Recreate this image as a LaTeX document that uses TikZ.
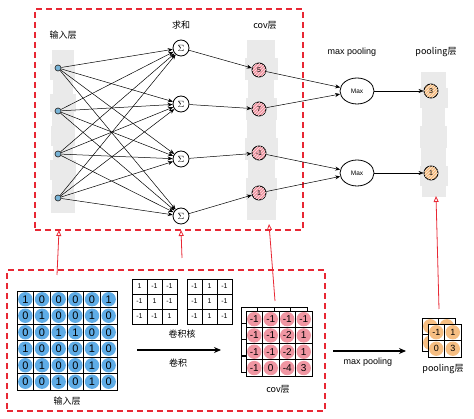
\documentclass[tikz,border=0pt]{standalone}
\usepackage{fontspec}
\setmainfont{Liberation Sans}
\newfontfamily\cjk{Noto Sans CJK SC}
\usetikzlibrary{arrows.meta,patterns,shapes.geometric}
\definecolor{dred}{RGB}{232,40,52}
\definecolor{bluec}{RGB}{95,172,230}
\definecolor{pinkc}{RGB}{240,150,162}
\definecolor{orangec}{RGB}{246,190,130}
\definecolor{stripc}{RGB}{234,234,234}
\definecolor{inpc}{RGB}{120,180,215}
\begin{document}
\begin{tikzpicture}[x=1pt,y=-1pt,
  lbl/.style={font=\fontsize{9}{10}\selectfont, inner sep=0},
  inp/.style={circle, draw=black!80, fill=inpc, inner sep=0, minimum size=6pt, line width=0.7pt},
  sumn/.style={circle, draw, line width=0.8pt, fill=white, minimum size=16pt, inner sep=0, font=\small},
  covn/.style={circle, draw, line width=0.9pt, fill=pinkc, minimum size=14pt, inner sep=0, font=\fontsize{7}{7}\selectfont,
     postaction={pattern=north east lines, pattern color=white!70!pinkc}},
  pooln/.style={circle, draw, line width=0.9pt, fill=orangec, minimum size=14pt, inner sep=0, font=\fontsize{7}{7}\selectfont,
     postaction={pattern=north east lines, pattern color=white!70!orangec}},
  maxn/.style={ellipse, draw, line width=0.8pt, fill=white, minimum width=34pt, minimum height=26pt, inner sep=0, font=\fontsize{6.5}{7}\selectfont},
  conn/.style={-{Stealth[length=5pt,width=4pt]}, line width=0.5pt},
  redarr/.style={dred, line width=0.8pt, -{Triangle[open,length=6pt,width=5pt]}},
  dbox/.style={draw=dred, line width=1.6pt, dash pattern=on 6pt off 4pt},
  incell/.style={draw, line width=0.6pt, minimum size=16.6pt, inner sep=0, font=\fontsize{11}{11}\selectfont,
     path picture={\fill[bluec] (path picture bounding box.center) circle (7.2pt);}},
  kcell/.style={draw, line width=0.6pt, fill=white, minimum size=15pt, inner sep=0, font=\fontsize{7}{7}\selectfont},
  ccell/.style={draw, line width=0.6pt, fill=white, minimum size=16.5pt, inner sep=0, font=\fontsize{10}{10}\selectfont,
     path picture={\fill[pinkc] (path picture bounding box.center) circle (7.2pt);}},
  pcell/.style={draw, line width=0.6pt, fill=white, minimum size=16.5pt, inner sep=0, font=\fontsize{9}{9}\selectfont,
     path picture={\fill[orangec] (path picture bounding box.center) circle (7.2pt);}},
  big/.style={-{Stealth[length=7pt,width=6pt]}, line width=1.1pt}
]
\useasboundingbox (0,0) rectangle (474,419);

% gray strips
\foreach \a/\b/\c/\d in {52/50/74/66, 50/64/75/80, 53/78/73/96, 50/94/76/112, 52/110/74/128, 51/126/75/146, 53/144/73/162, 50/160/76/180, 52/178/74/196, 51/194/75/213}
  \fill[stripc] (\a,\b) rectangle (\c,\d);
\foreach \a/\b/\c/\d in {247/40/275/60, 245/58/278/80, 248/78/274/100, 246/98/277/120, 247/118/276/140, 245/138/278/160, 248/158/275/180, 246/178/277/200, 247/198/276/220}
  \fill[stripc] (\a,\b) rectangle (\c,\d);
\foreach \a/\b/\c/\d in {421/72/446/90, 420/88/448/108, 422/106/445/128, 420/126/447/148, 421/146/446/168, 420/166/448/186, 422/184/446/197}
  \fill[stripc] (\a,\b) rectangle (\c,\d);

% dashed boxes
\node[dbox, minimum width=268pt, minimum height=221pt, inner sep=0, anchor=north west] (topbox) at (34,8) {};
\node[dbox, minimum width=318pt, minimum height=141pt, inner sep=0, anchor=north west] (botbox) at (6,269) {};

% top labels
\node[lbl] (tl1) at (63,35) {\cjk 输入层};
\node[lbl] (tl2) at (181,25) {\cjk 求和};
\node[lbl] (tl3) at (265,25) {\cjk cov层};
\node[lbl] (tl4) at (352,52) {max pooling};
\node[lbl] (tl5) at (436,52) {\cjk pooling层};

% network nodes
\foreach \y [count=\i] in {68,111,154,198} \node[inp] (i\i) at (58,\y) {};
\foreach \y [count=\i] in {48,104,159,216} \node[sumn] (s\i) at (181,\y) {$\Sigma$};
\foreach \y/\v [count=\i] in {70/5,109/7,153/-1,193/1} \node[covn] (c\i) at (259,\y) {\v};
\node[maxn] (m1) at (357,91) {Max};
\node[maxn] (m2) at (357,173) {Max};
\node[pooln] (p1) at (431,91) {3};
\node[pooln] (p2) at (431,173) {1};

\foreach \i in {1,...,4} \foreach \j in {1,...,4} \draw[conn] (i\i) -- (s\j);
\foreach \i in {1,...,4} \draw[conn] (s\i) -- (c\i);
\draw[conn] (c1) -- (m1);
\draw[conn] (c2) -- (m1);
\draw[conn] (c3) -- (m2);
\draw[conn] (c4) -- (m2);
\draw[conn] (m1) -- (p1);
\draw[conn] (m2) -- (p2);

% input grid
\foreach \row [count=\i] in {{1,0,0,0,0,1},{0,1,0,0,1,0},{0,0,1,1,0,0},{1,0,0,0,1,0},{0,1,0,0,1,0},{0,0,1,0,1,0}}
  \foreach \v [count=\j] in \row
    \node[incell] (g\i\j) at ({17+16.67*(\j-0.5)},{291+16.5*(\i-0.5)}) {\v};
\node[lbl] (bl1) at (67,401) {\cjk 输入层};

% kernels
\foreach \row [count=\i] in {{1,-1,-1},{-1,1,-1},{-1,-1,1}}
  \foreach \v [count=\j] in \row
    \node[kcell] (ka\i\j) at ({132+15*(\j-0.5)},{279+15*(\i-0.5)}) {\v};
\foreach \row [count=\i] in {{-1,1,-1},{-1,1,-1},{-1,1,-1}}
  \foreach \v [count=\j] in \row
    \node[kcell] (kb\i\j) at ({187+15*(\j-0.5)},{279+15*(\i-0.5)}) {\v};
\node[lbl] (bl2) at (182,334) {\cjk 卷积核};

\coordinate (a1s) at (137,350);
\coordinate (a1e) at (221,350);
\draw[big] (a1s) -- (a1e);
\node[lbl] (bl3) at (178,363) {\cjk 卷积};

% cov grid (back layer)
\foreach \i in {1,...,4} \foreach \j in {1,...,4}
  \node[draw, line width=0.6pt, minimum size=16.5pt, inner sep=0] (cb\i\j) at ({241+16.5*(\j-0.5)},{307+16.3*(\i-0.5)}) {};
\foreach \row [count=\i] in {{-1,-1,-1,-1},{-1,-1,-2,1},{-1,-1,-2,1},{-1,0,-4,3}}
  \foreach \v [count=\j] in \row
    \node[ccell] (cf\i\j) at ({246+16.5*(\j-0.5)},{311+16.3*(\i-0.5)}) {\v};
\node[lbl] (bl4) at (278,389) {\cjk cov层};

\coordinate (a2s) at (333,351);
\coordinate (a2e) at (406,351);
\draw[big] (a2s) -- (a2e);
\node[lbl] (bl5) at (368,362) {max pooling};

% pooling grid
\foreach \i in {1,2} \foreach \j in {1,2}
  \node[pcell] (pb\i\j) at ({422+16.5*(\j-0.5)},{318+16.5*(\i-0.5)}) {};
\foreach \row [count=\i] in {{-1,1},{0,3}}
  \foreach \v [count=\j] in \row
    \node[pcell] (pf\i\j) at ({428+16.5*(\j-0.5)},{324+16.5*(\i-0.5)}) {\v};
\node[lbl] (bl6) at (443,369) {\cjk pooling层};

% red arrows
\coordinate (r1s) at (57,275);
\coordinate (r1e) at (59,230);
\coordinate (r2s) at (182,258);
\coordinate (r2e) at (181,230);
\coordinate (r3s) at (275,301);
\coordinate (r3e) at (269,224);
\coordinate (r4s) at (439,309);
\coordinate (r4e) at (436,196);
\draw[redarr] (r1s) -- (r1e);
\draw[redarr] (r2s) -- (r2e);
\draw[redarr] (r3s) -- (r3e);
\draw[redarr] (r4s) -- (r4e);
\end{tikzpicture}
\end{document}
